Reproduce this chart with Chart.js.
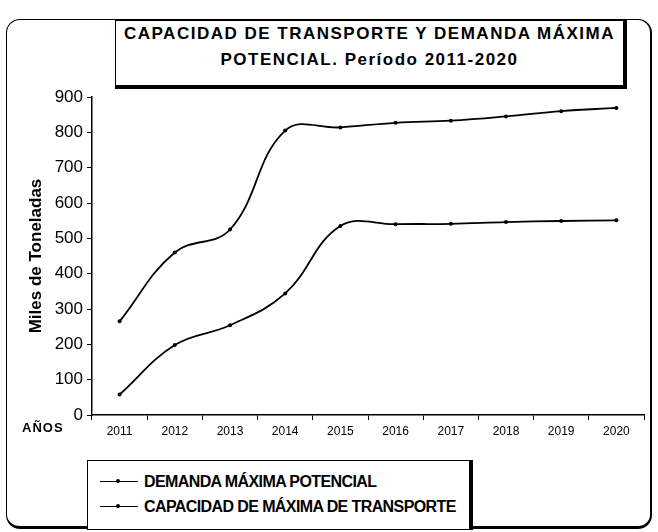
<!DOCTYPE html>
<html>
<head>
<meta charset="utf-8">
<script src="https://cdn.jsdelivr.net/npm/chart.js@4.4.0/dist/chart.umd.min.js"></script>
<style>
    body { margin: 0; background: #fff; font-family: "Liberation Sans", Arial, sans-serif; color: #000; }
    #wrap { position: relative; width: 658px; height: 532px; overflow: hidden; }
    #chart { position: absolute; left: 0; top: 0; }
    #frame {
        position: absolute; left: 6px; top: 19px; width: 643px; height: 506px;
        border: 1.5px solid #000; border-right-width: 2px; border-bottom-width: 3px;
        border-radius: 14px;
    }
    #titleBox {
        position: absolute; left: 115px; top: 20px; width: 507px; height: 64px;
        background: #fff; border: 1px solid #000;
        border-right: 4px solid #000; border-bottom: 4px solid #000;
        text-align: center; font-weight: bold; font-size: 17px; line-height: 26px;
        letter-spacing: 1.5px; white-space: nowrap;
    }
    #legendBox {
        position: absolute; left: 87px; top: 460px; width: 386px; height: 70px;
        background: #fff; border: 1px solid #000;
        border-right: 4px solid #000;
        font-weight: bold; font-size: 16px; line-height: 25px; padding-top: 8px;
        box-sizing: border-box; letter-spacing: -0.6px;
    }
    .item { display: flex; align-items: center; padding-left: 12px; }
    .mark { position: relative; width: 38px; height: 0; border-top: 1.5px solid #000; margin-right: 6px; }
    .mark::after {
        content: ""; position: absolute; left: 16px; top: -3.5px;
        width: 4px; height: 4px; border-radius: 50%; background: #000;
    }
    #anos { position: absolute; left: 22px; top: 420px; font-weight: bold; font-size: 13px; letter-spacing: 1px; }
</style>
</head>
<body>
<div id="wrap">
    <canvas id="chart" width="658" height="532"></canvas>
    <div id="frame"></div>
    <div id="titleBox">CAPACIDAD DE TRANSPORTE Y DEMANDA MÁXIMA<br>POTENCIAL. Período 2011-2020</div>
    <div id="anos">AÑOS</div>
    <div id="legendBox">
        <div class="item"><span class="mark"></span>DEMANDA MÁXIMA POTENCIAL</div>
        <div class="item"><span class="mark"></span>CAPACIDAD DE MÁXIMA DE TRANSPORTE</div>
    </div>
</div>
<script>
const years = ['2011', '2012', '2013', '2014', '2015', '2016', '2017', '2018', '2019', '2020'];
const demanda = [265, 460, 525, 805, 814, 827, 833, 845, 860, 869];
const capacidad = [58, 198, 254, 344, 535, 540, 541, 546, 549, 551];
const yMin = 0, yMax = 900, yStep = 100;

Chart.defaults.font.family = '"Liberation Sans", Arial, sans-serif';
Chart.defaults.color = '#000';

function lineSet(label, data) {
    return {
        label,
        data,
        borderColor: '#000',
        backgroundColor: '#000',
        borderWidth: 1.8,
        tension: 0.4,
        pointRadius: 2,
        pointBackgroundColor: '#000',
        pointBorderWidth: 0,
        fill: false
    };
}

new Chart(document.getElementById('chart'), {
    type: 'line',
    data: {
        labels: years,
        datasets: [
            lineSet('DEMANDA MÁXIMA POTENCIAL', demanda),
            lineSet('CAPACIDAD DE MÁXIMA DE TRANSPORTE', capacidad)
        ]
    },
    options: {
        responsive: false,
        animation: false,
        layout: { padding: { top: 97, right: 14, left: 0, bottom: 0 } },
        plugins: { legend: { display: false }, tooltip: { enabled: false }, title: { display: false } },
        scales: {
            x: {
                offset: true,
                grid: { offset: true, drawOnChartArea: false, tickLength: 5, color: '#000' },
                border: { color: '#000', width: 1.5 },
                ticks: { font: { size: 12 }, padding: 4, maxRotation: 0, autoSkip: false },
                afterFit: s => { s.height = 117; }
            },
            y: {
                min: yMin,
                max: yMax,
                ticks: { stepSize: yStep, font: { size: 17 }, padding: 4 },
                grid: { drawOnChartArea: false, tickLength: 5, color: '#000' },
                border: { color: '#000', width: 1.5 },
                title: {
                    display: true,
                    text: 'Miles de Toneladas',
                    font: { size: 17, weight: 'bold' },
                    padding: { top: 26, bottom: 0 }
                },
                afterFit: s => { s.width = 92; }
            }
        }
    }
});
</script>
</body>
</html>
